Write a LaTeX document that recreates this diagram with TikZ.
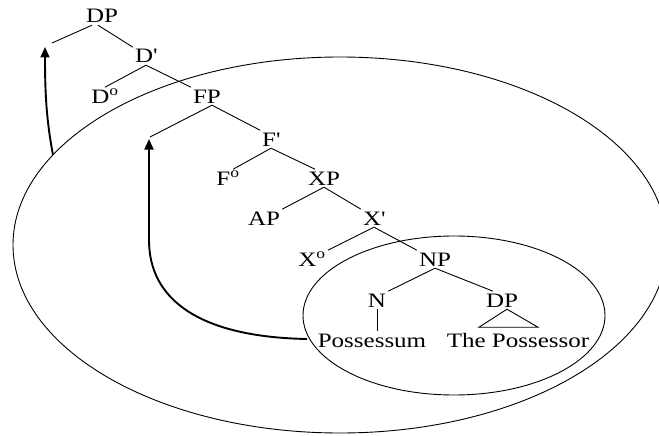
\documentclass[tikz,border=0pt]{standalone}
\usepackage{fontspec}
\setmainfont[FakeStretch=1.22]{Liberation Serif}
\usetikzlibrary{arrows.meta}
\begin{document}
\begin{tikzpicture}[x=1pt,y=-1pt,
  lbl/.style={inner sep=2pt, text height=13.6pt, text depth=0pt, anchor=base, font=\fontsize{20.5}{20.5}\selectfont},
  br/.style={line width=0.9pt},
  ring/.style={line width=0.9pt},
  mv/.style={line width=1.9pt, -{Triangle[length=10.5pt,width=9pt]}}]
\useasboundingbox (0,0) rectangle (659,436);
% enclosing rings
\draw[ring] (340,245) ellipse [x radius=327pt, y radius=188pt];
\draw[ring] (454,315.5) ellipse [x radius=151pt, y radius=79.5pt];
% tree labels
\node[lbl] (DP) at (102,23) {DP};
\node[lbl] (Db) at (146,63) {D\textquotesingle};
\node[lbl] (D0) at (105,103) {D\textsuperscript{o}};
\node[lbl] (FP) at (207,103) {FP};
\node[lbl] (Fb) at (271,146) {F\textquotesingle};
\node[lbl] (F0) at (228,185) {F\textsuperscript{o}};
\node[lbl] (XP) at (324,185) {XP};
\node[lbl] (AP) at (264,225) {AP};
\node[lbl] (Xb) at (374,225) {X\textquotesingle};
\node[lbl] (X0) at (312,266) {X\textsuperscript{o}};
\node[lbl] (NP) at (435,266) {NP};
\node[lbl] (N) at (377,307) {N};
\node[lbl] (DPb) at (502,307) {DP};
\node[lbl] (Pm) at (372,347) {Possessum};
\node[lbl] (Pr) at (518,347) {The Possessor};
% empty specifier positions and arrow ends
\coordinate (specD) at (52,43);
\coordinate (specF) at (150,137);
\coordinate (tipD) at (45,47);
\coordinate (tipF) at (149,139);
\coordinate (outD) at (53,155);
\coordinate (outF) at (307,339);
% branches
\draw[br] ([xshift=-10pt]DP.south) -- (specD);
\draw[br] ([xshift=-4pt]DP.south) -- (Db.north west);
\draw[br] (Db.south) -- (D0.north);
\draw[br] (Db.south) -- (FP.north west);
\draw[br] ([xshift=5pt]FP.south) -- (specF);
\draw[br] ([xshift=5pt]FP.south) -- (Fb.north west);
\draw[br] (Fb.south) -- (F0.60);
\draw[br] (Fb.south) -- (XP.135);
\draw[br] (XP.south) -- (AP.north east);
\draw[br] (XP.south) -- (Xb.north west);
\draw[br] (Xb.south) -- (X0.north east);
\draw[br] (Xb.south) -- (NP.north west);
\draw[br] (NP.south) -- (N.north east);
\draw[br] (NP.south) -- (DPb.135);
\draw[br] (N.south) -- (N.south |- Pm.north);
\draw[br] ([xshift=5pt]DPb.south) -- ++(-28,18) -- ++(59,0) -- cycle;
% movement arrows
\draw[mv] (outD) .. controls (46,118) and (45,90) .. (tipD);
\draw[mv] (outF) .. controls (200,337) and (149,300) .. (149,240) -- (tipF);
\end{tikzpicture}
\end{document}
